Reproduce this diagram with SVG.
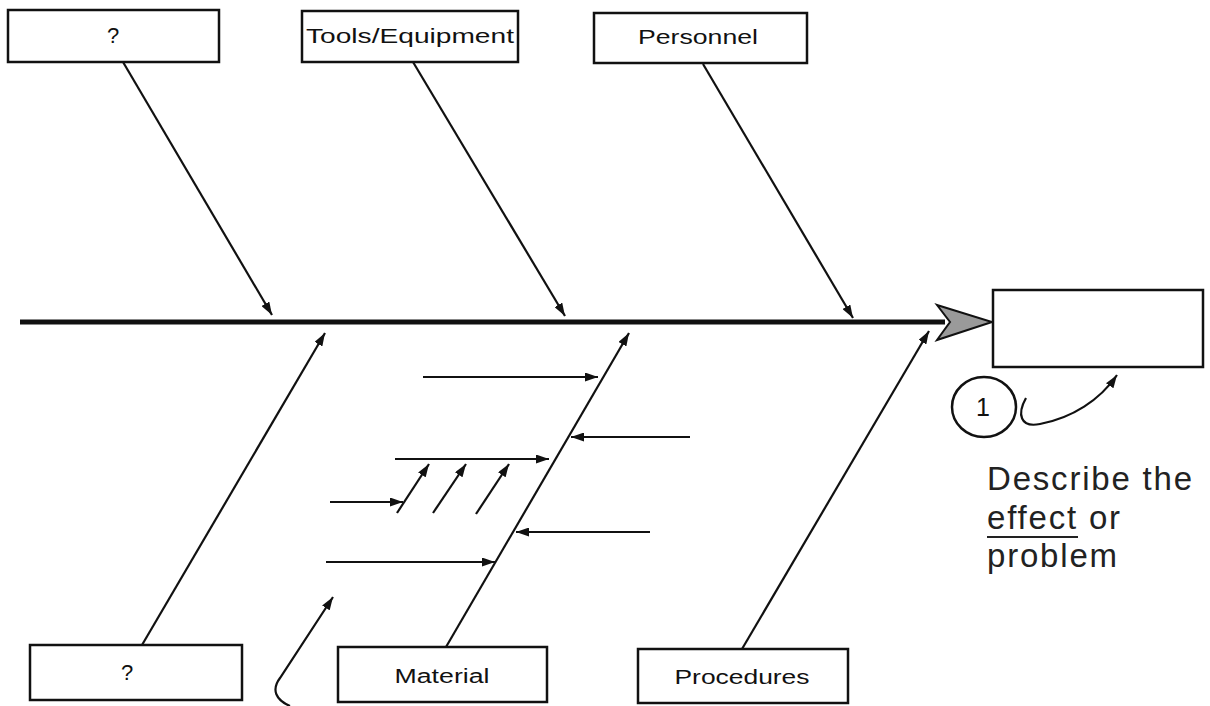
<svg xmlns="http://www.w3.org/2000/svg" width="1210" height="706" viewBox="0 0 1210 706">
<defs>
<marker id="ah" markerUnits="userSpaceOnUse" markerWidth="14" markerHeight="9" refX="13" refY="4.5" orient="auto">
<path d="M0,0 L13,4.5 L0,9 z" fill="#111"/>
</marker>
<style>
.box{fill:#fff;stroke:#111;stroke-width:2.5}
.lbl{font-family:"Liberation Sans",Arial,sans-serif;font-size:20px;fill:#111;text-anchor:middle}
.ln{stroke:#111;stroke-width:2.2;fill:none}
.ar{stroke:#111;stroke-width:2.2;fill:none;marker-end:url(#ah)}
.note{font-family:"Liberation Sans",Arial,sans-serif;font-size:33px;fill:#222;letter-spacing:1.8px}
</style>
</defs>
<rect width="1210" height="706" fill="#fff"/>

<g id="connectors">
<line x1="20" y1="322" x2="945" y2="322" stroke="#111" stroke-width="5"/>
<line class="ar" x1="123" y1="62" x2="272" y2="315"/>
<line class="ar" x1="413" y1="62" x2="565" y2="316"/>
<line class="ar" x1="703" y1="64" x2="853" y2="318"/>
<line class="ar" x1="142" y1="645" x2="325" y2="333"/>
<line class="ar" x1="446" y1="647" x2="629" y2="333"/>
<line class="ar" x1="742" y1="649" x2="929" y2="331"/>
<line class="ar" x1="423" y1="377" x2="598" y2="377"/>
<line class="ar" x1="690" y1="437" x2="571" y2="437"/>
<line class="ar" x1="395" y1="459" x2="549" y2="459"/>
<line class="ar" x1="330" y1="502" x2="403" y2="502"/>
<line class="ar" x1="397" y1="513" x2="429" y2="464"/>
<line class="ar" x1="433" y1="513" x2="466" y2="464"/>
<line class="ar" x1="476" y1="514" x2="509" y2="464"/>
<line class="ar" x1="650" y1="532" x2="516" y2="532"/>
<line class="ar" x1="326" y1="562" x2="495" y2="562"/>
<path class="ar" d="M290,706 C276,700 271,690 280,678 L333,597"/>
<path class="ar" d="M1026,398 C1017,414 1020,428 1040,424 C1072,418 1100,400 1117,375"/>
</g>

<g id="spine-head">
<path d="M937,305 L992,322 L937,340 L950,322 z" fill="#9a9a9a" stroke="#111" stroke-width="2"/>
</g>

<g id="node-top-q">
<rect class="box" x="8" y="10" width="211" height="52"/>
<text class="lbl" x="113" y="43" style="font-size:22px">?</text>
</g>
<g id="node-tools">
<rect class="box" x="302" y="11" width="216" height="51"/>
<text class="lbl" x="410" y="43" textLength="208" lengthAdjust="spacingAndGlyphs">Tools/Equipment</text>
</g>
<g id="node-personnel">
<rect class="box" x="594" y="13" width="213" height="50"/>
<text class="lbl" x="698" y="44" textLength="120" lengthAdjust="spacingAndGlyphs">Personnel</text>
</g>
<g id="node-bottom-q">
<rect class="box" x="30" y="645" width="212" height="55"/>
<text class="lbl" x="127" y="680" style="font-size:22px">?</text>
</g>
<g id="node-material">
<rect class="box" x="338" y="647" width="209" height="55"/>
<text class="lbl" x="442" y="683" textLength="95" lengthAdjust="spacingAndGlyphs">Material</text>
</g>
<g id="node-procedures">
<rect class="box" x="638" y="649" width="210" height="54"/>
<text class="lbl" x="742" y="684" textLength="135" lengthAdjust="spacingAndGlyphs">Procedures</text>
</g>
<g id="node-effect">
<rect class="box" x="993" y="290" width="210" height="77"/>
</g>
<g id="node-step1">
<ellipse cx="984" cy="407" rx="32" ry="30" fill="#fff" stroke="#111" stroke-width="2.5"/>
<text class="lbl" x="983" y="416" style="font-size:25px">1</text>
</g>
<g id="note">
<text class="note" x="987" y="490">Describe the</text>
<text class="note" x="987" y="529">effect or</text>
<line x1="987" y1="537" x2="1078" y2="537" stroke="#222" stroke-width="2"/>
<text class="note" x="987" y="567">problem</text>
</g>
</svg>
